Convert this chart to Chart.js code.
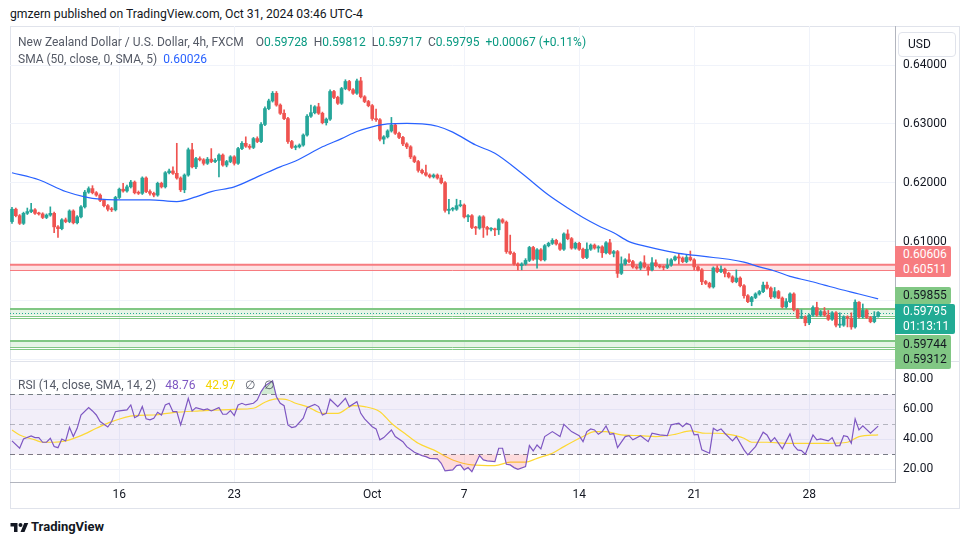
<!DOCTYPE html>
<html>
<head>
<meta charset="utf-8">
<title>NZDUSD 4h</title>
<script src="https://cdn.jsdelivr.net/npm/chart.js@4.4.1/dist/chart.umd.min.js"></script>
<style>
  body { margin: 0; background: #fff; font-family: Roboto, "Noto Sans", Arial, sans-serif; color: #131722; }
  #page { position: relative; width: 970px; height: 545px; overflow: hidden; }
  .abs { position: absolute; white-space: nowrap; }
  #frame { position: absolute; left: 10px; top: 26px; width: 950px; height: 483px; border: 1px solid #e0e3eb; box-sizing: border-box; }
  canvas { position: absolute; left: 10px; }
  .legend { font-size: 12px; color: #555a66; line-height: 16px; }
  .legend span { margin-left: 6px; }
  .legend span:first-child { margin-left: 0; }
  .up { color: #089981; }
  .tag { position: absolute; left: 895px; width: 56px; font-size: 12px; line-height: 15px; padding-left: 8px; box-sizing: border-box; border-radius: 0 2px 2px 0; }
</style>
</head>
<body>
<div id="page">
  <div class="abs" style="left:10px;top:7px;font-size:12.2px;">gmzern published on TradingView.com, Oct 31, 2024 03:46 UTC-4</div>
  <div id="frame"></div>
  <canvas id="priceChart" width="949" height="335" style="top:26px"></canvas>
  <canvas id="rsiChart" width="949" height="147" style="top:361px"></canvas>
  <div class="abs" style="left:10px;top:361px;width:950px;height:1px;background:#e0e3eb"></div>

  <div class="abs legend" style="left:18px;top:34px;"><span>New Zealand Dollar / U.S. Dollar, 4h, FXCM</span><span style="margin-left:12px">O<b class="up" style="font-weight:400">0.59728</b></span><span>H<b class="up" style="font-weight:400">0.59812</b></span><span>L<b class="up" style="font-weight:400">0.59717</b></span><span>C<b class="up" style="font-weight:400">0.59795</b></span><span class="up">+0.00067 (+0.11%)</span></div>
  <div class="abs legend" style="left:18px;top:51px;"><span>SMA (50, close, 0, SMA, 5)</span><span style="color:#2962ff">0.60026</span></div>
  <div class="abs legend" style="left:18px;top:377px;"><span>RSI (14, close, SMA, 14, 2)</span><span style="color:#7e57c2;margin-left:9px">48.76</span><span style="color:#f5d400;margin-left:10px">42.97</span><span style="margin-left:9px">∅</span><span style="margin-left:9px">∅</span></div>

  <div class="abs" style="left:898px;top:32px;width:58px;height:25px;border:1px solid #e0e3eb;border-radius:4px;box-sizing:border-box;font-size:12px;line-height:23px;padding-left:9px;">USD</div>

  <div class="tag" style="top:246px;height:31px;background:#f77c80;color:#fff;padding-top:1px">0.60606<br>0.60511</div>
  <div class="tag" style="top:287px;height:17px;background:#81c784;line-height:17px">0.59855</div>
  <div class="tag" style="top:304px;height:30px;width:60px;background:#22ab94;color:#fff;">0.59795<br>01:13:11</div>
  <div class="tag" style="top:335px;height:34px;background:#81c784;padding-top:2px">0.59744<br>0.59312</div>

  <div class="abs" style="left:10px;top:520px;">
    <svg width="19" height="14" viewBox="0 0 36 28"><path d="M14 22H7V11H0V4h14v18zM28 22h-8l7.5-18h8L28 22z" fill="#131722"/><circle cx="20" cy="8" r="4" fill="#131722"/></svg>
  </div>
  <div class="abs" style="left:31px;top:519px;font-size:13px;font-weight:700;">TradingView</div>
</div>

<script>
// bar index on x: one bar = 4 hours, Sep 16 00:00 = 28
const dayTicks = [28, 58, 94, 118, 148, 178, 208];
const dayLabels = ["16", "23", "Oct", "7", "14", "21", "28"];
const priceTicks = [0.59, 0.6, 0.61, 0.62, 0.63, 0.64];
const rsiTicks = [20, 40, 60, 80];

const firstOpen = 0.6134;
const lastOpen = 0.59728;
const closes = [
  0.6155, 0.6144, 0.6131, 0.6148, 0.6151, 0.6154, 0.6148, 0.6147, 0.6141, 0.6145,
  0.6148, 0.6125, 0.6122, 0.6137, 0.6134, 0.6152, 0.6132, 0.6142, 0.6159, 0.6184,
  0.6190, 0.6183, 0.6179, 0.6170, 0.6161, 0.6155, 0.6154, 0.6175, 0.6189, 0.6186,
  0.6193, 0.6201, 0.6183, 0.6182, 0.6208, 0.6185, 0.6182, 0.6179, 0.6199, 0.6193,
  0.6217, 0.6220, 0.6216, 0.6208, 0.6188, 0.6213, 0.6256, 0.6227, 0.6241, 0.6239,
  0.6233, 0.6240, 0.6236, 0.6238, 0.6247, 0.6230, 0.6236, 0.6244, 0.6233, 0.6258,
  0.6267, 0.6262, 0.6260, 0.6275, 0.6270, 0.6299, 0.6326, 0.6339, 0.6352, 0.6332,
  0.6318, 0.6309, 0.6270, 0.6260, 0.6261, 0.6264, 0.6281, 0.6313, 0.6319, 0.6329,
  0.6318, 0.6302, 0.6308, 0.6355, 0.6345, 0.6335, 0.6360, 0.6372, 0.6358, 0.6352,
  0.6373, 0.6346, 0.6338, 0.6331, 0.6309, 0.6307, 0.6274, 0.6278, 0.6288, 0.6298,
  0.6284, 0.6277, 0.6266, 0.6261, 0.6244, 0.6236, 0.6221, 0.6217, 0.6213, 0.6210,
  0.6213, 0.6208, 0.6200, 0.6153, 0.6155, 0.6155, 0.6161, 0.6162, 0.6142, 0.6144,
  0.6124, 0.6123, 0.6142, 0.6124, 0.6121, 0.6121, 0.6120, 0.6137, 0.6133, 0.6083,
  0.6080, 0.6062, 0.6059, 0.6062, 0.6068, 0.6090, 0.6070, 0.6086, 0.6069, 0.6093,
  0.6097, 0.6102, 0.6096, 0.6087, 0.6113, 0.6105, 0.6089, 0.6097, 0.6087, 0.6073,
  0.6087, 0.6094, 0.6089, 0.6091, 0.6081, 0.6098, 0.6080, 0.6083, 0.6046, 0.6062,
  0.6069, 0.6066, 0.6057, 0.6055, 0.6064, 0.6057, 0.6052, 0.6064, 0.6059, 0.6057,
  0.6056, 0.6060, 0.6069, 0.6074, 0.6072, 0.6066, 0.6073, 0.6069, 0.6057, 0.6052,
  0.6032, 0.6029, 0.6023, 0.6055, 0.6049, 0.6053, 0.6046, 0.6040, 0.6032, 0.6038,
  0.6025, 0.6008, 0.5998, 0.6005, 0.6011, 0.6015, 0.6026, 0.6021, 0.6006, 0.6015,
  0.6004, 0.5989, 0.5998, 0.6011, 0.5984, 0.5971, 0.5972, 0.5962, 0.5975, 0.5988,
  0.5975, 0.5981, 0.5975, 0.5968, 0.5979, 0.5958, 0.5958, 0.5972, 0.5970, 0.5955,
  0.5997, 0.5972, 0.5983, 0.5971, 0.5964, 0.5973, 0.59795
];
const highs = [
  0.6158, 0.6157, 0.6146, 0.6150, 0.6157, 0.6165, 0.6156, 0.6150, 0.6149, 0.6147,
  0.6159, 0.6150, 0.6127, 0.6139, 0.6140, 0.6154, 0.6154, 0.6144, 0.6161, 0.6187,
  0.6193, 0.6195, 0.6185, 0.6181, 0.6172, 0.6163, 0.6158, 0.6177, 0.6191, 0.6199,
  0.6196, 0.6204, 0.6203, 0.6186, 0.6210, 0.6210, 0.6188, 0.6184, 0.6201, 0.6201,
  0.6219, 0.6223, 0.6227, 0.6267, 0.6210, 0.6215, 0.6259, 0.6267, 0.6243, 0.6244,
  0.6241, 0.6243, 0.6258, 0.6241, 0.6249, 0.6249, 0.6238, 0.6246, 0.6246, 0.6260,
  0.6270, 0.6278, 0.6265, 0.6277, 0.6278, 0.6302, 0.6329, 0.6342, 0.6355, 0.6355,
  0.6334, 0.6324, 0.6311, 0.6272, 0.6264, 0.6266, 0.6283, 0.6316, 0.6332, 0.6331,
  0.6335, 0.6320, 0.6310, 0.6358, 0.6357, 0.6347, 0.6362, 0.6375, 0.6374, 0.6360,
  0.6376, 0.6379, 0.6348, 0.6340, 0.6333, 0.6325, 0.6309, 0.6280, 0.6290, 0.6311,
  0.6300, 0.6286, 0.6279, 0.6268, 0.6263, 0.6246, 0.6238, 0.6223, 0.6230, 0.6215,
  0.6215, 0.6215, 0.6213, 0.6202, 0.6172, 0.6158, 0.6172, 0.6170, 0.6164, 0.6146,
  0.6146, 0.6126, 0.6144, 0.6144, 0.6126, 0.6124, 0.6123, 0.6139, 0.6139, 0.6135,
  0.6111, 0.6082, 0.6064, 0.6064, 0.6071, 0.6092, 0.6092, 0.6088, 0.6088, 0.6095,
  0.6099, 0.6105, 0.6104, 0.6098, 0.6115, 0.6120, 0.6107, 0.6099, 0.6099, 0.6089,
  0.6098, 0.6096, 0.6096, 0.6093, 0.6093, 0.6100, 0.6104, 0.6085, 0.6085, 0.6074,
  0.6071, 0.6079, 0.6068, 0.6059, 0.6066, 0.6076, 0.6059, 0.6073, 0.6069, 0.6061,
  0.6059, 0.6071, 0.6071, 0.6076, 0.6080, 0.6074, 0.6077, 0.6084, 0.6071, 0.6059,
  0.6054, 0.6034, 0.6031, 0.6057, 0.6059, 0.6059, 0.6055, 0.6048, 0.6042, 0.6052,
  0.6040, 0.6027, 0.6010, 0.6007, 0.6013, 0.6017, 0.6031, 0.6031, 0.6023, 0.6022,
  0.6017, 0.6006, 0.6003, 0.6013, 0.6013, 0.5986, 0.5984, 0.5974, 0.5977, 0.5991,
  0.5997, 0.5983, 0.5988, 0.5983, 0.5981, 0.5981, 0.5979, 0.5974, 0.5974, 0.5979,
  0.6001, 0.5998, 0.5994, 0.5985, 0.5973, 0.5981, 0.59812
];
const lows = [
  0.6131, 0.6142, 0.6129, 0.6129, 0.6146, 0.6149, 0.6146, 0.6145, 0.6139, 0.6139,
  0.6143, 0.6115, 0.6107, 0.6120, 0.6132, 0.6132, 0.6130, 0.6130, 0.6140, 0.6157,
  0.6182, 0.6181, 0.6177, 0.6168, 0.6159, 0.6152, 0.6151, 0.6152, 0.6173, 0.6184,
  0.6184, 0.6191, 0.6181, 0.6180, 0.6180, 0.6183, 0.6179, 0.6176, 0.6177, 0.6191,
  0.6191, 0.6215, 0.6214, 0.6206, 0.6185, 0.6183, 0.6211, 0.6225, 0.6224, 0.6237,
  0.6230, 0.6231, 0.6234, 0.6234, 0.6210, 0.6228, 0.6227, 0.6234, 0.6230, 0.6231,
  0.6256, 0.6260, 0.6257, 0.6258, 0.6268, 0.6268, 0.6297, 0.6324, 0.6337, 0.6330,
  0.6316, 0.6307, 0.6267, 0.6258, 0.6256, 0.6259, 0.6262, 0.6279, 0.6311, 0.6317,
  0.6316, 0.6300, 0.6298, 0.6306, 0.6343, 0.6333, 0.6333, 0.6358, 0.6356, 0.6350,
  0.6350, 0.6344, 0.6336, 0.6329, 0.6306, 0.6304, 0.6271, 0.6266, 0.6276, 0.6286,
  0.6282, 0.6275, 0.6263, 0.6258, 0.6241, 0.6234, 0.6218, 0.6215, 0.6211, 0.6208,
  0.6208, 0.6206, 0.6198, 0.6150, 0.6147, 0.6152, 0.6153, 0.6159, 0.6140, 0.6134,
  0.6122, 0.6112, 0.6121, 0.6107, 0.6111, 0.6118, 0.6110, 0.6112, 0.6131, 0.6080,
  0.6078, 0.6060, 0.6052, 0.6052, 0.6060, 0.6066, 0.6068, 0.6055, 0.6067, 0.6067,
  0.6091, 0.6095, 0.6094, 0.6085, 0.6085, 0.6103, 0.6087, 0.6087, 0.6085, 0.6071,
  0.6071, 0.6085, 0.6087, 0.6082, 0.6073, 0.6079, 0.6078, 0.6074, 0.6039, 0.6044,
  0.6060, 0.6064, 0.6055, 0.6053, 0.6052, 0.6055, 0.6043, 0.6050, 0.6057, 0.6055,
  0.6052, 0.6054, 0.6058, 0.6067, 0.6062, 0.6064, 0.6064, 0.6067, 0.6052, 0.6050,
  0.6027, 0.6027, 0.6021, 0.6021, 0.6047, 0.6047, 0.6040, 0.6038, 0.6030, 0.6030,
  0.6023, 0.6004, 0.5996, 0.5991, 0.6003, 0.6009, 0.6013, 0.6019, 0.6003, 0.6004,
  0.6003, 0.5987, 0.5987, 0.5996, 0.5982, 0.5969, 0.5969, 0.5957, 0.5959, 0.5973,
  0.5973, 0.5973, 0.5973, 0.5966, 0.5966, 0.5955, 0.5954, 0.5956, 0.5955, 0.5951,
  0.5953, 0.5970, 0.5970, 0.5969, 0.5962, 0.5962, 0.59717
];

// [bar, value]
const sma50 = [
  [0, 0.6217], [7, 0.6205], [14, 0.6185], [19, 0.6176], [23, 0.6172], [27, 0.6171], [36, 0.6171],
  [43, 0.6168], [48, 0.6176], [52, 0.6185], [58, 0.6193], [65, 0.6213], [70, 0.6227], [74, 0.6237],
  [81, 0.6261], [86, 0.6275], [90, 0.6287], [94, 0.6295], [98, 0.6300], [103, 0.6301], [107, 0.6300],
  [111, 0.6296], [115, 0.6286], [121, 0.6264], [126, 0.6250], [133, 0.6216], [140, 0.6179],
  [145, 0.6157], [149, 0.6141], [153, 0.6127], [157, 0.6115], [161, 0.6100], [166, 0.6091],
  [170, 0.6085], [174, 0.6080], [179, 0.6076], [183, 0.6073], [187, 0.6070], [191, 0.6065],
  [195, 0.6057], [199, 0.6050], [203, 0.6041], [208, 0.6033], [212, 0.6026], [216, 0.6019],
  [221, 0.6011], [226, 0.60026]
];
const rsi = [
  [0, 38.9], [2, 34.0], [3, 40.2], [5, 42.2], [6, 41.1], [7, 41.1], [8, 38.0], [9, 38.0], [10, 40.7],
  [11, 35.1], [12, 34.4], [13, 40.2], [14, 38.9], [15, 48.0], [16, 41.8], [17, 47.3], [18, 56.2],
  [20, 61.1], [21, 58.9], [22, 56.2], [23, 51.8], [25, 48.2], [26, 51.8], [27, 58.4], [28, 58.9],
  [30, 59.6], [31, 62.9], [32, 54.4], [33, 55.8], [34, 61.8], [35, 53.6], [36, 52.9], [37, 54.0],
  [38, 58.0], [39, 56.2], [40, 62.9], [41, 64.0], [42, 58.4], [43, 58.4], [44, 49.6], [45, 58.0],
  [46, 67.3], [47, 58.9], [48, 61.1], [50, 59.6], [51, 60.2], [52, 58.9], [54, 61.1], [55, 56.7],
  [56, 56.7], [57, 59.1], [58, 55.8], [59, 62.9], [60, 64.0], [61, 62.9], [63, 64.0], [64, 66.2],
  [65, 71.8], [66, 75.6], [67, 77.3], [68, 78.9], [69, 68.4], [70, 64.0], [71, 62.4], [72, 49.6],
  [73, 47.8], [74, 48.4], [76, 54.0], [77, 61.1], [79, 63.3], [80, 61.8], [81, 56.2], [82, 57.3],
  [83, 66.7], [85, 61.8], [87, 67.3], [88, 61.8], [90, 65.1], [91, 57.3], [92, 53.6], [94, 48.4],
  [95, 46.9], [96, 39.6], [97, 41.1], [99, 46.2], [100, 41.8], [102, 38.4], [103, 35.1], [105, 31.3],
  [107, 29.1], [108, 28.4], [109, 27.3], [111, 26.9], [112, 24.0], [113, 18.9], [115, 19.6],
  [116, 22.4], [117, 22.9], [118, 19.6], [119, 21.1], [120, 18.4], [122, 29.1], [123, 26.2],
  [124, 25.6], [126, 25.1], [127, 34.0], [128, 34.0], [129, 23.3], [130, 22.9], [131, 21.1],
  [132, 20.0], [134, 21.8], [135, 35.8], [136, 32.2], [137, 36.2], [138, 33.6], [139, 41.8],
  [141, 45.1], [143, 41.8], [144, 50.0], [146, 45.1], [148, 42.4], [149, 38.4], [150, 45.1],
  [151, 46.9], [152, 46.2], [153, 43.3], [154, 45.1], [155, 48.9], [156, 43.3], [157, 43.8],
  [158, 34.4], [160, 41.8], [161, 42.4], [162, 39.6], [164, 42.4], [166, 38.4], [167, 44.0],
  [169, 42.9], [171, 42.4], [172, 49.6], [174, 50.7], [175, 48.4], [176, 50.7], [177, 49.6],
  [178, 42.9], [179, 43.3], [180, 32.9], [182, 30.7], [183, 47.3], [184, 45.6], [185, 46.9],
  [186, 44.0], [188, 38.9], [189, 41.8], [191, 32.9], [192, 29.6], [194, 35.1], [196, 44.7],
  [197, 42.9], [198, 38.4], [199, 41.1], [201, 33.6], [203, 43.6], [204, 35.8], [205, 32.9],
  [206, 32.4], [207, 30.0], [209, 42.9], [210, 39.6], [211, 40.2], [213, 38.9], [214, 41.1],
  [215, 35.6], [216, 35.8], [217, 42.4], [218, 41.8], [219, 37.3], [220, 53.6], [221, 46.2],
  [222, 48.9], [224, 44.0], [226, 48.76]
];
const rsiSma = [
  [0, 46.2], [2, 42.9], [6, 39.6], [8, 38.0], [11, 38.0], [14, 38.9], [18, 42.4], [22, 47.3],
  [26, 51.8], [32, 55.8], [37, 56.2], [42, 57.8], [49, 58.9], [58, 60.0], [63, 60.7], [66, 64.7],
  [69, 66.9], [72, 66.2], [74, 64.0], [77, 61.8], [81, 57.3], [85, 57.3], [89, 62.4], [92, 61.8],
  [96, 58.4], [99, 50.7], [103, 42.9], [106, 37.3], [110, 32.9], [115, 26.2], [120, 22.9],
  [126, 22.4], [130, 24.7], [134, 24.7], [137, 27.3], [141, 30.7], [144, 35.1], [149, 41.8],
  [152, 45.1], [155, 45.1], [159, 42.9], [164, 42.4], [168, 41.8], [173, 43.3], [177, 45.6],
  [181, 44.0], [184, 44.0], [187, 43.3], [191, 40.7], [193, 38.0], [197, 38.0], [203, 37.3],
  [208, 37.3], [213, 37.3], [218, 38.0], [221, 41.8], [226, 42.97]
];

// horizontal levels drawn on the chart
const resistance = [0.60606, 0.60511];
const support = [0.59855, 0.59744, 0.5971];
const support2 = [0.59312, 0.5921, 0.5917];
const lastPrice = 0.59795;

document.addEventListener("DOMContentLoaded", () => {
  const UP = "#26a69a";
  const DOWN = "#ef5350";
  const GRID = "#f0f3fa";
  const AXIS = "#b2b5be";
  const X_MIN = -0.52;
  const X_MAX = 230.4;

  const opens = closes.map((c, i) => (i === 0 ? firstOpen : closes[i - 1]));
  opens[opens.length - 1] = lastOpen;
  const colors = closes.map((c, i) => (c >= opens[i] ? UP : DOWN));

  const font = { family: "Roboto, 'Noto Sans', sans-serif", size: 12 };

  const rightAxisFit = (scale) => {
    scale.width = 64;
    scale.paddingTop = 0;
    scale.paddingBottom = 0;
  };
  const dayTickBuild = (scale) => {
    scale.ticks = dayTicks.map((v) => ({ value: v }));
  };

  const hline = (ctx, area, y, color, width, dash) => {
    ctx.save();
    ctx.strokeStyle = color;
    ctx.lineWidth = width;
    ctx.setLineDash(dash || []);
    ctx.beginPath();
    ctx.moveTo(area.left, y);
    ctx.lineTo(area.right, y);
    ctx.stroke();
    ctx.restore();
  };

  const levelsPlugin = {
    id: "levels",
    beforeDatasetsDraw(chart) {
      const { ctx, chartArea: a, scales } = chart;
      const y = (v) => scales.y.getPixelForValue(v);
      const band = (v1, v2, color) => {
        ctx.fillStyle = color;
        ctx.fillRect(a.left, y(v1), a.right - a.left, y(v2) - y(v1));
      };
      band(resistance[0], resistance[1], "rgba(247,124,128,0.22)");
      hline(ctx, a, y(resistance[0]), "#f77c80", 2);
      hline(ctx, a, Math.round(y(resistance[1])) + 0.5, "#f77c80", 1);

      band(support[0], support[1], "rgba(129,199,132,0.2)");
      hline(ctx, a, y(support[0]), "#81c784", 2);
      hline(ctx, a, Math.round(y(support[1])) + 0.5, "#81c784", 1);
      hline(ctx, a, Math.round(y(support[2])) + 0.5, "#81c784", 1);

      band(support2[0], support2[1], "rgba(129,199,132,0.2)");
      hline(ctx, a, y(support2[0]), "#81c784", 2);
      hline(ctx, a, Math.round(y(support2[1])) + 0.5, "#81c784", 1);
      hline(ctx, a, Math.round(y(support2[2])) + 0.5, "#81c784", 1);

      hline(ctx, a, Math.round(y(lastPrice)) + 0.5, "#22ab94", 1, [1, 2]);
    },
  };

  const rsiBandPlugin = {
    id: "rsiBand",
    beforeDatasetsDraw(chart) {
      const { ctx, chartArea: a, scales } = chart;
      const y = (v) => scales.y.getPixelForValue(v);
      ctx.fillStyle = "rgba(126,87,194,0.1)";
      ctx.fillRect(a.left, y(70), a.right - a.left, y(30) - y(70));
      hline(ctx, a, Math.round(y(70)) + 0.5, "#787b86", 1, [5, 4]);
      hline(ctx, a, Math.round(y(50)) + 0.5, "rgba(120,123,134,0.5)", 1, [5, 4]);
      hline(ctx, a, Math.round(y(30)) + 0.5, "#787b86", 1, [5, 4]);
    },
  };

  // Price pane: candles as floating bars (wick low-high, body open-close)
  new Chart(document.getElementById("priceChart"), {
    type: "bar",
    data: {
      datasets: [
        {
          label: "wick",
          data: closes.map((c, i) => ({ x: i, y: [lows[i], highs[i]] })),
          backgroundColor: colors,
          barThickness: 1,
          grouped: false,
          order: 2,
        },
        {
          label: "body",
          data: closes.map((c, i) => ({ x: i, y: [opens[i], c] })),
          backgroundColor: colors,
          barThickness: 3,
          minBarLength: 1,
          grouped: false,
          order: 1,
        },
        {
          type: "line",
          label: "SMA 50",
          data: sma50.map(([x, y]) => ({ x, y })),
          borderColor: "#2962ff",
          borderWidth: 1.2,
          pointRadius: 0,
          cubicInterpolationMode: "monotone",
          order: 0,
        },
      ],
    },
    options: {
      responsive: false,
      animation: false,
      layout: { padding: 0 },
      plugins: { legend: { display: false }, tooltip: { enabled: false } },
      scales: {
        x: {
          type: "linear",
          min: X_MIN,
          max: X_MAX,
          offset: false,
          grid: { color: GRID, drawTicks: false, offset: false },
          border: { display: false },
          ticks: { display: false },
          afterBuildTicks: dayTickBuild,
          afterFit: (s) => { s.height = 0; s.paddingLeft = 0; s.paddingRight = 0; },
        },
        y: {
          position: "right",
          min: 0.58971,
          max: 0.64663,
          grid: { color: GRID, drawTicks: false },
          border: { display: true, color: AXIS },
          ticks: { color: "#131722", font, padding: 8, callback: (v) => v.toFixed(5) },
          afterBuildTicks: (s) => { s.ticks = priceTicks.map((v) => ({ value: v })); },
          afterFit: rightAxisFit,
        },
      },
    },
    plugins: [levelsPlugin],
  });

  // RSI pane with time axis
  new Chart(document.getElementById("rsiChart"), {
    type: "line",
    data: {
      datasets: [
        {
          label: "RSI",
          data: rsi.map(([x, y]) => ({ x, y })),
          borderColor: "#7e57c2",
          borderWidth: 1.2,
          pointRadius: 0,
          fill: { target: { value: 70 }, above: "rgba(76,175,80,0.25)", below: "rgba(0,0,0,0)" },
        },
        {
          label: "RSI oversold",
          data: rsi.map(([x, y]) => ({ x, y })),
          borderWidth: 0,
          pointRadius: 0,
          fill: { target: { value: 30 }, above: "rgba(0,0,0,0)", below: "rgba(242,54,69,0.18)" },
        },
        {
          label: "RSI SMA",
          data: rsiSma.map(([x, y]) => ({ x, y })),
          borderColor: "#fdd835",
          borderWidth: 1.2,
          pointRadius: 0,
          cubicInterpolationMode: "monotone",
        },
      ],
    },
    options: {
      responsive: false,
      animation: false,
      layout: { padding: 0 },
      plugins: { legend: { display: false }, tooltip: { enabled: false } },
      scales: {
        x: {
          type: "linear",
          min: X_MIN,
          max: X_MAX,
          grid: { color: GRID, drawTicks: false },
          border: { display: true, color: AXIS },
          ticks: {
            color: "#131722",
            font,
            padding: 6,
            autoSkip: false,
            maxRotation: 0,
            callback: (v) => dayLabels[dayTicks.indexOf(v)],
          },
          afterBuildTicks: dayTickBuild,
          afterFit: (s) => { s.height = 26; s.paddingLeft = 0; s.paddingRight = 0; },
        },
        y: {
          position: "right",
          min: 11.5,
          max: 92.2,
          grid: { color: GRID, drawTicks: false },
          border: { display: true, color: AXIS },
          ticks: { color: "#131722", font, padding: 8, callback: (v) => v.toFixed(2) },
          afterBuildTicks: (s) => { s.ticks = rsiTicks.map((v) => ({ value: v })); },
          afterFit: rightAxisFit,
        },
      },
    },
    plugins: [rsiBandPlugin],
  });
});
</script>
</body>
</html>
